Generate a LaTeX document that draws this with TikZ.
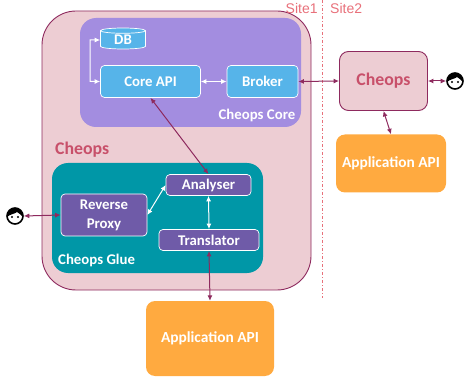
\documentclass[tikz,border=0pt]{standalone}
\usepackage{fontspec}
\setmainfont{Carlito}
\newfontfamily\lib{Liberation Sans}
\usetikzlibrary{arrows.meta,calc,shapes.geometric}
\definecolor{pinkf}{HTML}{EDCDD3}
\definecolor{wine}{HTML}{8E2A5E}
\definecolor{corepurple}{HTML}{A38DE0}
\definecolor{teal}{HTML}{0097A7}
\definecolor{blueb}{HTML}{56B4E9}
\definecolor{violetb}{HTML}{6F5BA8}
\definecolor{orangeb}{HTML}{FFAA40}
\definecolor{cheopsred}{HTML}{C8506A}
\definecolor{siter}{HTML}{E8707A}
\tikzset{
 x=1pt,y=-1pt,
 whitebox/.style={draw=white,line width=0.7pt,rounded corners=4pt,text=white,font=\bfseries\fontsize{14.8}{16}\selectfont,align=center,inner sep=0pt},
 bluebox/.style={whitebox,fill=blueb},
 violetbox/.style={whitebox,fill=violetb},
 appbox/.style={fill=orangeb,rounded corners=9pt,text=white,font=\bfseries\fontsize{15.4}{17}\selectfont,inner sep=0pt},
 wlink/.style={draw=wine,line width=1pt,{Latex[length=5.5pt,width=5pt]}-{Latex[length=5.5pt,width=5pt]}},
 slink/.style={draw=white,line width=1pt,{Latex[length=5.5pt,width=5pt]}-{Latex[length=5.5pt,width=5pt]}},
 lab/.style={text=white,font=\bfseries\fontsize{14.8}{16}\selectfont,inner sep=0pt},
 site/.style={text=siter,font=\lib\fontsize{14}{15}\selectfont,inner sep=0pt},
 face/.style={circle,draw=black,line width=1.6pt,fill=white,minimum size=16pt,inner sep=0pt},
}
\newcommand{\facedetail}[1]{
 \fill[black] ($(#1)+(-8,1)$) .. controls ($(#1)+(-8,-4)$) and ($(#1)+(-4,-8)$) .. ($(#1)+(0,-8)$) .. controls ($(#1)+(4,-8)$) and ($(#1)+(8,-4)$) .. ($(#1)+(8,1)$) .. controls ($(#1)+(6,-1)$) and ($(#1)+(4,-3)$) .. ($(#1)+(2,-4)$) .. controls ($(#1)+(0,-2)$) and ($(#1)+(-5,-2)$) .. ($(#1)+(-8,1)$) -- cycle;
 \fill[black] ($(#1)+(-3,1)$) circle[radius=1.1];
 \fill[black] ($(#1)+(3,1)$) circle[radius=1.1];
}
\begin{document}
\begin{tikzpicture}
\useasboundingbox (0,0) rectangle (469,377);
\node[draw=wine,line width=0.9pt,fill=pinkf,rounded corners=34pt,minimum width=269pt,minimum height=279pt,inner sep=0pt] (outer) at (176.5,150.5) {};
\node[fill=corepurple,rounded corners=16pt,minimum width=221pt,minimum height=109pt,inner sep=0pt] (core) at (190.5,72.5) {};
\node[fill=teal,rounded corners=16pt,minimum width=211pt,minimum height=110pt,inner sep=0pt] (glue) at (157.5,218) {};
\node[lab,anchor=east] (corelab) at (295.5,115.5) {Cheops Core};
\node[lab,anchor=west] (gluelab) at (58,260) {Cheops Glue};
\node[text=cheopsred,font=\bfseries\fontsize{17.8}{19}\selectfont,inner sep=0pt,anchor=west] (cheopslab) at (55,149.5) {Cheops};
\node[bluebox,minimum width=100pt,minimum height=32pt] (api) at (150.5,81.5) {Core API};
\node[bluebox,minimum width=71pt,minimum height=32pt] (broker) at (262.5,81.5) {Broker};
\node[cylinder,shape border rotate=90,aspect=0.3,draw=white,line width=0.7pt,fill=blueb,cylinder uses custom fill,cylinder body fill=blueb,cylinder end fill=blueb,minimum width=45pt,minimum height=21pt,inner sep=0pt,text=white,font=\bfseries\fontsize{14.8}{16}\selectfont] (db) at (123,40) {\raisebox{-3.5pt}{DB}};
\node[violetbox,minimum width=86pt,minimum height=42pt] (proxy) at (104,215) {Reverse\\[3pt]Proxy};
\node[violetbox,minimum width=85pt,minimum height=21pt] (analyser) at (208.5,185) {Analyser};
\node[violetbox,minimum width=100pt,minimum height=21pt] (translator) at (209,240) {Translator};
\node[draw=wine,line width=0.9pt,fill=pinkf,rounded corners=9pt,minimum width=88pt,minimum height=59pt,inner sep=0pt,text=cheopsred,font=\bfseries\fontsize{17.8}{19}\selectfont] (cheops2) at (383.5,81) {Cheops};
\node[appbox,minimum width=110pt,minimum height=58pt] (app1) at (391,163.5) {Application API};
\node[appbox,minimum width=128pt,minimum height=75pt] (app2) at (210,338.5) {Application API};
\node[site,anchor=west] (s1) at (285.5,8.5) {Site1};
\node[site,anchor=west] (s2) at (330,8.5) {Site2};
\coordinate (dash1) at (322.5,0);
\coordinate (dash2) at (322.5,298);
\draw[siter,line width=0.8pt,dash pattern=on 3pt off 2pt on 1pt off 2pt] (dash1) -- (dash2);
\node[face] (f1) at (15,216) {};
\node[face] (f2) at (455,81) {};
\facedetail{f1}
\facedetail{f2}
% connectors
\draw[slink] (api.east) -- (broker.west);
\coordinate (dbelbow) at (90,40);
\coordinate (apielbow) at (90,81.5);
\draw[slink] (db.west) -- (dbelbow) -- (apielbow) -- (api.west);
\draw[slink] (proxy.east) -- (analyser.west);
\draw[slink] (analyser.south) -- (translator.north);
\draw[wlink] (broker.east) -- (cheops2.west);
\draw[wlink] (api.south) -- (analyser.north);
\draw[wlink] (f1.east) -- (proxy.west);
\draw[wlink] (f2.west) -- (cheops2.east);
\draw[wlink] (translator.south) -- (app2.north);
\draw[wlink] (cheops2.south) -- (app1.north);
\end{tikzpicture}
\end{document}
